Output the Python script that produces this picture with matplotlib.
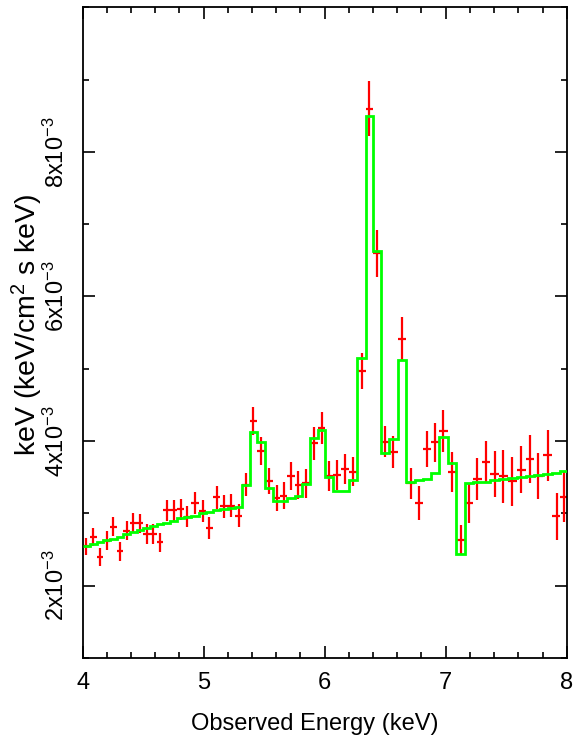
import numpy as np
import matplotlib
matplotlib.use('Agg')
import matplotlib.pyplot as plt
from matplotlib.ticker import MultipleLocator, FixedLocator

plt.rcParams['font.family'] = ['Liberation Sans', 'DejaVu Sans']
plt.rcParams['mathtext.fontset'] = 'custom'
plt.rcParams['mathtext.rm'] = 'Liberation Sans'
plt.rcParams['mathtext.it'] = 'Liberation Sans:italic'

# bin centres (keV)
energy = [4.030, 4.088, 4.143, 4.198, 4.253, 4.308, 4.364, 4.418, 4.474, 4.529,
          4.583, 4.639, 4.694, 4.755, 4.810, 4.865, 4.931, 4.992, 5.046, 5.107,
          5.168, 5.228, 5.289, 5.350, 5.410, 5.471, 5.540, 5.603, 5.664, 5.721,
          5.782, 5.845, 5.912, 5.975, 6.038, 6.104, 6.170, 6.236, 6.306, 6.369,
          6.435, 6.501, 6.567, 6.639, 6.711, 6.779, 6.848, 6.912, 6.980, 7.050,
          7.124, 7.193, 7.261, 7.333, 7.407, 7.476, 7.550, 7.622, 7.697, 7.765,
          7.843, 7.917, 7.978]

# data, in units of 1e-3 keV/cm2/s/keV
flux = [2.544, 2.677, 2.392, 2.622, 2.815, 2.475, 2.760, 2.866, 2.862, 2.714,
        2.714, 2.599, 3.046, 3.046, 3.059, 2.953, 3.142, 3.036, 2.793, 3.221,
        3.097, 3.105, 2.967, 3.395, 4.279, 3.865, 3.450, 3.211, 3.243, 3.519,
        3.391, 3.414, 3.971, 4.182, 3.519, 3.529, 3.608, 3.575, 4.970, 8.598,
        6.595, 3.994, 3.851, 5.407, 3.414, 3.142, 3.888, 3.981, 4.141, 3.566,
        2.635, 3.138, 3.474, 3.713, 3.543, 3.511, 3.442, 3.602, 3.750, 3.519,
        3.805, 2.958, 3.229]

flux_err = [0.122, 0.127, 0.125, 0.128, 0.130, 0.128, 0.132, 0.133, 0.133, 0.133,
            0.135, 0.135, 0.145, 0.145, 0.145, 0.145, 0.154, 0.150, 0.150, 0.157,
            0.157, 0.157, 0.159, 0.161, 0.196, 0.198, 0.184, 0.177, 0.189, 0.193,
            0.196, 0.196, 0.226, 0.226, 0.205, 0.205, 0.207, 0.200, 0.244, 0.382,
            0.322, 0.214, 0.226, 0.304, 0.219, 0.230, 0.253, 0.265, 0.295, 0.276,
            0.210, 0.276, 0.285, 0.292, 0.322, 0.364, 0.338, 0.327, 0.331, 0.322,
            0.352, 0.329, 0.345]

model = [2.55, 2.57, 2.60, 2.63, 2.65, 2.68, 2.71, 2.74, 2.77, 2.80,
         2.82, 2.85, 2.87, 2.90, 2.93, 2.95, 2.97, 3.00, 3.02, 3.04,
         3.06, 3.08, 3.09, 3.39, 4.12, 3.99, 3.35, 3.17, 3.17, 3.21,
         3.24, 3.41, 4.04, 4.15, 3.51, 3.31, 3.31, 3.46, 5.15, 8.49,
         6.63, 3.84, 4.03, 5.12, 3.44, 3.46, 3.47, 3.56, 4.06, 3.70,
         2.44, 3.42, 3.43, 3.44, 3.46, 3.47, 3.49, 3.50, 3.52, 3.53,
         3.55, 3.56, 3.58]

ytick_vals = [2, 4, 6, 8]
ytick_labels = ['%dx10$^{-3}$' % v for v in ytick_vals]

scale = 1e-3
e = np.array(energy)
mid = (e[1:] + e[:-1]) / 2
edges = np.concatenate([[e[0] - (e[1] - e[0]) / 2], mid, [e[-1] + (e[-1] - e[-2]) / 2]])
xlo = e - edges[:-1]
xhi = edges[1:] - e

fig = plt.figure(figsize=(5.81, 7.5), dpi=100)
ax = fig.add_axes([0.1423, 0.1227, 0.8331, 0.8676])

ax.errorbar(e, np.array(flux) * scale, xerr=[xlo, xhi], yerr=np.array(flux_err) * scale,
            fmt='none', ecolor='#ff0000', elinewidth=1.6, capsize=0, zorder=2)
ax.stairs(np.array(model) * scale, edges, baseline=None, color='#00ff00', lw=2.0, zorder=3)

ax.set_xlim(4, 8)
ax.set_ylim(1.0e-3, 10.0e-3)
ax.xaxis.set_major_locator(FixedLocator([4, 5, 6, 7, 8]))
ax.xaxis.set_minor_locator(MultipleLocator(0.2))
ax.yaxis.set_major_locator(FixedLocator([v * scale for v in ytick_vals]))
ax.yaxis.set_minor_locator(MultipleLocator(1e-3))

ax.tick_params(which='both', direction='in', top=True, right=True, width=1.2, labelsize=17)
ax.tick_params(which='major', length=8.5, pad=10)
ax.tick_params(which='minor', length=4.3)
ax.set_yticklabels(ytick_labels, rotation=90, va='center', fontsize=17)
for s in ax.spines.values():
    s.set_linewidth(1.3)

ax.set_xlabel('Observed Energy (keV)', fontsize=17)
ax.xaxis.set_label_coords(0.48, -0.085)
ax.set_ylabel(r'keV (keV/cm$^2$ s keV)', fontsize=20.5)
ax.yaxis.set_label_coords(-0.077, 0.512)

fig.savefig('out.png', dpi=100)
